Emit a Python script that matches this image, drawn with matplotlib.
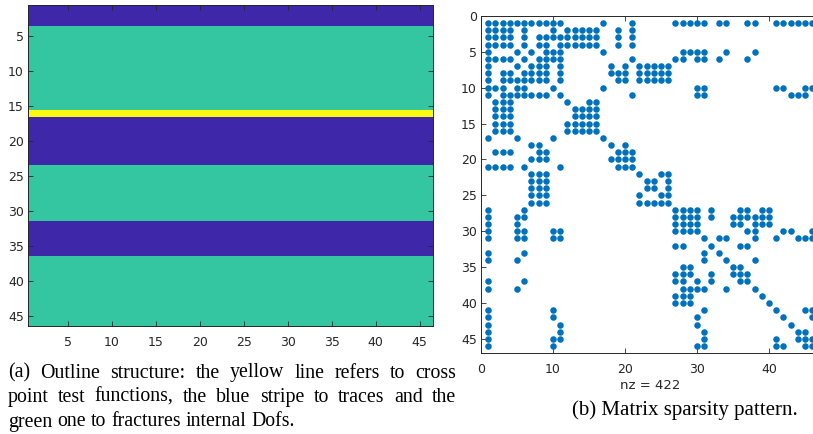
import numpy as np
import matplotlib
matplotlib.use('Agg')
import matplotlib.pyplot as plt
from matplotlib.colors import ListedColormap

# (a) outline: horizontal stripes, rows first..last, kind 0 = traces, 1 = fracture dofs, 2 = cross point
stripe_first = [1, 4, 16, 17, 24, 32, 37]
stripe_last = [3, 15, 16, 23, 31, 36, 46]
stripe_kind = [0, 1, 2, 0, 1, 0, 1]
n = 46

# (b) sparsity pattern, upper triangle (row: columns), mirrored below
upper = {
    1: [1, 2, 3, 4, 5, 6, 7, 8, 9, 10, 11, 17, 21, 27, 28, 29, 30, 31, 33, 34, 37, 38, 41, 42, 43, 44, 45, 46],
    2: [2, 3, 4, 6, 10, 12, 13, 14, 15, 16, 19, 21],
    3: [3, 4, 6, 8, 9, 10, 11, 12, 13, 14, 15, 16, 19, 21],
    4: [4, 6, 8, 9, 11, 12, 13, 14, 15, 16, 19, 21],
    5: [5, 7, 9, 10, 11, 17, 28, 29, 30, 31, 34, 38],
    6: [6, 8, 9, 10, 11, 21, 27, 28, 30, 31, 33, 37],
    7: [7, 8, 9, 11, 18, 20, 22, 23, 24, 25, 26],
    8: [8, 9, 11, 18, 19, 20, 22, 23, 24, 25, 26],
    9: [9, 11, 19, 20, 22, 23, 24, 25, 26],
    10: [10, 17, 30, 31, 41, 42, 45, 46],
    11: [11, 21, 30, 31, 43, 44, 45],
    12: [12, 15, 16],
    13: [13, 14, 15, 16],
    14: [14, 15, 16],
    15: [15, 16],
    16: [16],
    17: [17],
    18: [18, 20],
    19: [19, 20, 21],
    20: [20, 21],
    21: [21],
    22: [22, 25, 26],
    23: [23, 24, 26],
    24: [24, 26],
    25: [25, 26],
    26: [26],
    27: [27, 28, 29, 30, 32, 36, 37, 39, 40],
    28: [28, 29, 30, 32, 35, 36, 37, 38, 39, 40],
    29: [29, 30, 35, 36, 38, 39, 40],
    30: [30, 37, 38, 42, 43, 46],
    31: [31, 33, 34, 38, 41, 44, 45, 46],
    32: [32, 36, 37],
    33: [33],
    34: [34, 38],
    35: [35, 36],
    36: [36, 37],
    37: [37],
    38: [38],
    39: [39],
    40: [40],
    41: [41, 45, 46],
    42: [42, 46],
    43: [43],
    44: [44, 45],
    45: [45, 46],
    46: [46],
}

cap_a = ["(a) Outline structure: the yellow line refers to cross",
         "point test functions, the blue stripe to traces and the",
         "green one to fractures internal Dofs."]
cap_b = "(b) Matrix sparsity pattern."

W, H = 813, 434
axc = '#262626'
cap_fs = 14.3

field = np.zeros((n, n))
for a, b, k in zip(stripe_first, stripe_last, stripe_kind):
    field[a - 1:b, :] = k

M = np.zeros((n, n), dtype=bool)
for r, cols in upper.items():
    for c in cols:
        M[r - 1, c - 1] = True
        M[c - 1, r - 1] = True
rows, cols = np.nonzero(M)

fig = plt.figure(figsize=(W / 100, H / 100), dpi=100)

# left panel
ax1 = fig.add_axes([28 / W, 1 - 326 / H, 405 / W, 321 / H])
cmap = ListedColormap(['#3e27a8', '#33c6a0', '#f9fa0f'])
ax1.imshow(field, cmap=cmap, vmin=-0.5, vmax=2.5, aspect='auto', interpolation='nearest',
           extent=[0.5, n + 0.5, n + 0.5, 0.5])
ax1.set_xticks(range(5, 46, 5))
ax1.set_yticks(range(5, 46, 5))

# right panel
ax2 = fig.add_axes([481 / W, 1 - 353.3 / H, 338.4 / W, 337.5 / H])
ax2.plot(cols + 1, rows + 1, 'o', ms=4.7, color='#0072bd', mec='none')
ax2.set_xlim(0, n + 1)
ax2.set_ylim(n + 1, 0)
ax2.set_xticks(range(0, 41, 10))
ax2.set_yticks(range(0, 46, 5))
ax2.set_xlabel('nz = %d' % M.sum(), fontsize=9.5, color=axc, labelpad=2)

for ax in (ax1, ax2):
    ax.tick_params(direction='in', length=3.5, width=0.6, top=True, right=True,
                   labelsize=9, colors=axc, pad=3)
    ax.tick_params(axis='x', pad=7)
    for s in ax.spines.values():
        s.set_color(axc)
        s.set_linewidth(0.7)

# captions, first two lines justified
r = fig.canvas.get_renderer()
x0, x1 = 8, 456
for i, line in enumerate(cap_a):
    y = 1 - (373 + 24.5 * i) / H
    words = line.split()
    objs = [fig.text(0, y, w, family='Liberation Serif', fontsize=cap_fs, va='center') for w in words]
    widths = [o.get_window_extent(r).width for o in objs]
    if i < 2:
        gap = (x1 - x0 - sum(widths)) / (len(words) - 1)
    else:
        sp = fig.text(0, 0, 'a a', family='Liberation Serif', fontsize=cap_fs)
        aa = fig.text(0, 0, 'aa', family='Liberation Serif', fontsize=cap_fs)
        gap = sp.get_window_extent(r).width - aa.get_window_extent(r).width
        sp.remove()
        aa.remove()
    x = x0
    for o, w in zip(objs, widths):
        o.set_x(x / W)
        x += w + gap

fig.text(685 / W, 1 - 410 / H, cap_b, family='Liberation Serif', fontsize=15,
         ha='center', va='center')

fig.savefig('out.png', dpi=100)
